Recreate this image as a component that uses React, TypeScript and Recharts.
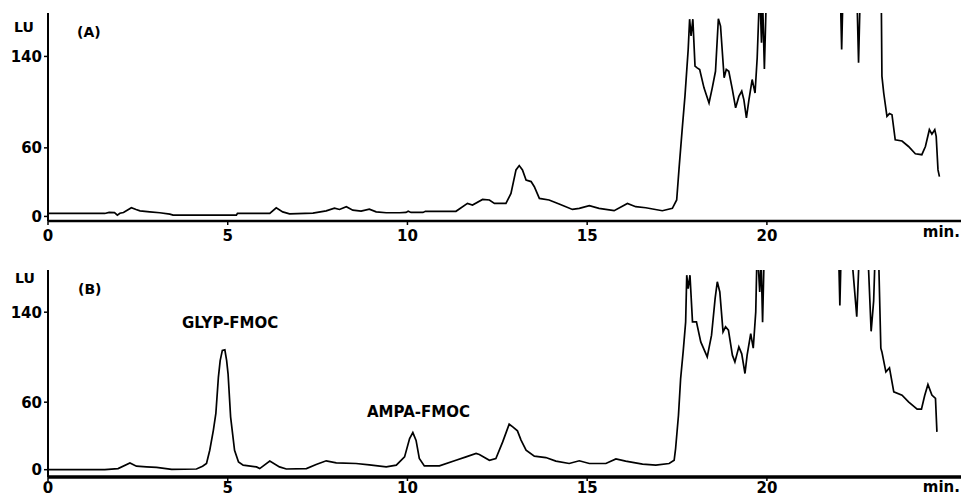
import React from "react";
import { LineChart, Line, XAxis, YAxis } from "recharts";

// retention time (min) and fluorescence (LU)
const timeA = [
  0, 1.58, 1.7, 1.85, 1.93, 2.0, 2.1, 2.32, 2.45, 2.56, 2.83, 3.11, 3.39, 3.48,
  5.24, 5.27, 6.17, 6.35, 6.53, 6.72, 7.37, 7.74, 7.97, 8.11, 8.3, 8.48, 8.71,
  8.94, 9.13, 9.41, 9.78, 9.96, 10.02, 10.1, 10.43, 10.5, 11.35, 11.67, 11.81,
  12.09, 12.28, 12.42, 12.74, 12.88, 13.02, 13.11, 13.2, 13.3, 13.44, 13.53,
  13.67, 13.94, 14.22, 14.59, 14.78, 15.06, 15.33, 15.75, 16.12, 16.35, 16.63,
  17.09, 17.37, 17.49, 17.56, 17.65, 17.72, 17.81, 17.85, 17.89, 17.94, 18.0,
  18.06, 18.13, 18.25, 18.39, 18.48, 18.57, 18.65, 18.71, 18.81, 18.87, 18.94,
  19.04, 19.13, 19.22, 19.3, 19.36, 19.43, 19.5, 19.59, 19.67, 19.73, 19.8,
  19.85, 19.88, 19.93, 19.99, 22.04, 22.08, 22.12, 22.5, 22.55, 22.6, 23.18,
  23.2, 23.25, 23.34, 23.41, 23.48, 23.57, 23.76, 23.94, 24.13, 24.31, 24.41,
  24.52, 24.59, 24.67, 24.71, 24.76, 24.8,
];
const lumA = [
  2.6, 2.6, 3.5, 3.4, 1.1, 2.8, 3.4, 7.6, 6.0, 4.9, 4.0, 3.2, 2.0, 1.1,
  1.1, 2.6, 2.6, 7.6, 4.0, 2.3, 2.9, 4.9, 7.3, 6.1, 8.5, 5.5, 4.6,
  6.4, 4.0, 3.2, 3.2, 3.5, 4.5, 3.5, 3.5, 4.5, 4.5, 11.4, 10.0,
  14.9, 14.4, 11.4, 11.4, 20.2, 40.7, 44.5, 40.7, 31.9, 30.5, 26.0,
  15.8, 14.4, 10.8, 6.1, 7.1, 9.4, 7.1, 5.0, 11.4, 8.5, 7.6,
  5.0, 7.1, 14.4, 43.6, 78.8, 105, 146, 172.6, 158, 172.6, 131.5,
  130, 128.6, 112.5, 99.3, 112.5, 127, 173, 166.6, 121.3, 128.6, 127,
  111, 95, 105, 109.6, 102, 86.2, 102, 119.8, 108, 138.9, 200,
  152, 190, 129, 200, 200, 146, 200, 200, 134.5, 200, 200,
  122.7, 108, 87.6, 90, 89, 67, 66, 61.2, 54.8, 54, 61.2,
  75.9, 72, 75.9, 70, 40.7, 34.8,
];

const timeB = [
  0, 1.58, 1.95, 2.28, 2.46, 2.74, 3.02, 3.44, 4.13, 4.3, 4.41, 4.5, 4.6, 4.67,
  4.74, 4.79, 4.85, 4.92, 4.97, 5.01, 5.08, 5.19, 5.3, 5.43, 5.8, 5.89, 6.17,
  6.44, 6.63, 7.19, 7.46, 7.74, 8.02, 8.57, 8.94, 9.41, 9.69, 9.92, 10.06,
  10.15, 10.24, 10.33, 10.47, 10.89, 11.35, 11.63, 11.91, 12.0, 12.28, 12.46,
  12.65, 12.83, 12.93, 13.06, 13.16, 13.3, 13.53, 13.85, 14.13, 14.5, 14.78,
  15.06, 15.52, 15.8, 16.07, 16.54, 16.91, 17.28, 17.42, 17.46, 17.54, 17.6,
  17.67, 17.74, 17.77, 17.81, 17.86, 17.93, 18.04, 18.16, 18.34, 18.46, 18.56,
  18.62, 18.69, 18.78, 18.85, 18.93, 19.04, 19.11, 19.22, 19.3, 19.39, 19.45,
  19.55, 19.62, 19.69, 19.73, 19.8, 19.84, 19.88, 19.93, 21.99, 22.03, 22.07,
  22.36, 22.5, 22.58, 22.8, 22.9, 22.97, 23.02, 23.1, 23.17, 23.2, 23.31,
  23.41, 23.53, 23.76, 23.94, 24.18, 24.3, 24.39, 24.48, 24.59, 24.69, 24.73,
];
const lumB = [
  0, 0, 1.0, 6.0, 3.1, 2.5, 2.0, 0.3, 0.6, 3.0, 5.5, 17.3, 35, 50,
  82, 97, 106, 106.5, 97, 85, 47, 17.3, 6.9, 4.0, 2.5, 1.0, 7.6,
  2.5, 0.6, 1.0, 4.6, 7.9, 6.0, 5.5, 4.3, 2.5, 4.0, 11.4, 27.7,
  33, 26, 10, 3.4, 3.4, 8.4, 11.4, 14.4, 13.5, 8.4, 9.9,
  24.7, 40.4, 38, 34.5, 26.3, 17.3, 12, 10.8, 7.6, 5.5, 7.9,
  5.5, 5.5, 9.6, 7.6, 5.0, 4.0, 5.5, 8.4, 18.8, 48.4, 81,
  104.7, 131.4, 172.9, 161, 172.9, 131.4, 131.4, 113.6, 100.3, 119.6, 152.2,
  167, 158, 122.5, 127, 124, 101.8, 95.8, 109.2, 103, 85.5, 101.8,
  121, 108, 140.3, 200, 158, 185, 131, 200, 200, 146, 200,
  190, 136, 200, 200, 123, 150, 200, 200, 108, 104.7, 87,
  90.5, 69.2, 66.3, 60.3, 53.8, 53.8, 66, 75.7, 66.3, 63.4, 33.6,
];

const xTicks = [0, 5, 10, 15, 20];
const yTicks = [0, 60, 140];

const FONT = "'DejaVu Sans', sans-serif";
const tickStyle = { fill: "#000", fontSize: 15, fontWeight: "bold", fontFamily: FONT };

const toRows = (t: number[], v: number[]) => t.map((x, i) => ({ t: x, lu: v[i] }));

const txt = (extra: React.CSSProperties): React.CSSProperties => ({
  position: "absolute",
  fontFamily: FONT,
  fontWeight: "bold",
  lineHeight: 1,
  color: "#000",
  whiteSpace: "nowrap",
  ...extra,
});

type PanelProps = {
  rows: { t: number; lu: number }[];
  height: number;
  top: number;
  bottom: number;
  axisH: number;
  yDomain: [number, number];
  xLine: number;
  tickGap: number;
  children?: React.ReactNode;
};

const Panel = ({ rows, height, top, bottom, axisH, yDomain, xLine, tickGap, children }: PanelProps) => (
  <div style={{ position: "relative", width: 961, height }}>
    <LineChart width={961} height={height} data={rows} margin={{ top, right: 0, bottom, left: 0 }}>
      <XAxis
        dataKey="t"
        type="number"
        domain={[0, 25.4]}
        ticks={xTicks}
        allowDataOverflow
        height={axisH}
        tickSize={4}
        tickMargin={tickGap}
        axisLine={{ stroke: "#000", strokeWidth: xLine }}
        tickLine={{ stroke: "#000", strokeWidth: 1.5 }}
        tick={tickStyle}
      />
      <YAxis
        type="number"
        domain={yDomain}
        ticks={yTicks}
        allowDataOverflow
        width={48}
        tickSize={4}
        tickMargin={2}
        axisLine={{ stroke: "#000", strokeWidth: 2 }}
        tickLine={{ stroke: "#000", strokeWidth: 1.5 }}
        tick={tickStyle}
      />
      <Line
        dataKey="lu"
        type="linear"
        stroke="#000"
        strokeWidth={1.7}
        dot={false}
        isAnimationActive={false}
      />
    </LineChart>
    {children}
  </div>
);

export default function App() {
  return (
    <div style={{ position: "absolute", left: 0, top: 0, width: 961, height: 497, background: "#fff" }}>
      <Panel
        rows={toRows(timeA, lumA)}
        height={248}
        top={13}
        bottom={2}
        axisH={25}
        yDomain={[-4, 178]}
        xLine={2.5}
        tickGap={5}
      >
        <span style={txt({ left: 14, top: 20, fontSize: 14 })}>LU</span>
        <span style={txt({ left: 77, top: 25, fontSize: 14 })}>(A)</span>
        <span style={txt({ right: 1, top: 225, fontSize: 15 })}>min.</span>
      </Panel>
      <Panel
        rows={toRows(timeB, lumB)}
        height={249}
        top={22}
        bottom={0}
        axisH={20}
        yDomain={[-6.5, 177.5]}
        xLine={3.5}
        tickGap={1}
      >
        <span style={txt({ left: 15, top: 23, fontSize: 14 })}>LU</span>
        <span style={txt({ left: 78, top: 34, fontSize: 14 })}>(B)</span>
        <span style={txt({ left: 182, top: 68, fontSize: 15 })}>GLYP-FMOC</span>
        <span style={txt({ left: 367, top: 157, fontSize: 15 })}>AMPA-FMOC</span>
        <span style={txt({ right: 1, top: 232, fontSize: 15 })}>min.</span>
      </Panel>
    </div>
  );
}
